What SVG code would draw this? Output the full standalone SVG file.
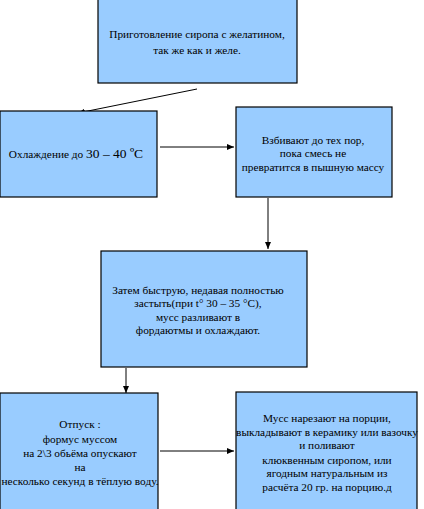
<svg xmlns="http://www.w3.org/2000/svg" width="424" height="509" viewBox="0 0 424 509">
<style>
.box{fill:#99CCFF;stroke:#000;stroke-width:1.2}
.t{font-family:"Liberation Serif","Times New Roman",serif;font-size:11.3px;fill:#000;text-anchor:middle}
.c{stroke:#000;stroke-width:1;fill:none;marker-end:url(#ah)}
</style>
<defs>
<marker id="ah" markerWidth="8" markerHeight="8" refX="7" refY="4" orient="auto" markerUnits="userSpaceOnUse">
<path d="M0,1 L7,4 L0,7 Z" fill="#000"/>
</marker>
</defs>
<rect width="424" height="509" fill="#fff"/>
<g id="connectors">
<line class="c" x1="197" y1="89" x2="78" y2="113"/>
<line class="c" x1="160" y1="147" x2="234" y2="147"/>
<line class="c" x1="268" y1="198" x2="268" y2="249"/>
<line class="c" x1="126" y1="368" x2="126" y2="393"/>
<line class="c" x1="160" y1="451" x2="234" y2="451"/>
</g>
<g id="n1">
<rect class="box" x="98" y="-2" width="199" height="85"/>
<text class="t" x="197" y="38">Приготовление сиропа с желатином,</text>
<text class="t" x="197" y="54">так же как и желе.</text>
</g>
<g id="n2">
<rect class="box" x="0" y="111" width="157" height="86"/>
<text class="t" x="76" y="158">Охлаждение до <tspan font-size="13.5">30 – 40 ºС</tspan></text>
</g>
<g id="n3">
<rect class="box" x="236" y="107" width="156" height="90"/>
<text class="t" x="313" y="144">Взбивают до тех пор,</text>
<text class="t" x="313" y="157">пока смесь не</text>
<text class="t" x="313" y="171">превратится в пышную массу</text>
</g>
<g id="n4">
<rect class="box" x="101" y="251" width="206" height="116"/>
<text class="t" x="198" y="294">Затем быструю, недавая полностью</text>
<text class="t" x="198" y="307">застыть(при t° 30 – 35 °С),</text>
<text class="t" x="198" y="321">мусс разливают в</text>
<text class="t" x="198" y="334">фордаютмы и охлаждают.</text>
</g>
<g id="n5">
<rect class="box" x="0" y="393" width="158" height="120"/>
<text class="t" x="80" y="428">Отпуск :</text>
<text class="t" x="80" y="443">формус муссом</text>
<text class="t" x="80" y="457">на 2\3 обьёма опускают</text>
<text class="t" x="80" y="471">на</text>
<text class="t" x="80" y="485">несколько секунд в тёплую воду.</text>
</g>
<g id="n6">
<rect class="box" x="236" y="392" width="181" height="121"/>
<text class="t" x="327" y="422">Мусс нарезают на порции,</text>
<text class="t" x="327" y="436">выкладывают в керамику или вазочку</text>
<text class="t" x="327" y="449">и поливают</text>
<text class="t" x="327" y="464">клюквенным сиропом, или</text>
<text class="t" x="327" y="477">ягодным натуральным из</text>
<text class="t" x="327" y="491">расчёта 20 гр. на порцию.д</text>
</g>
</svg>
